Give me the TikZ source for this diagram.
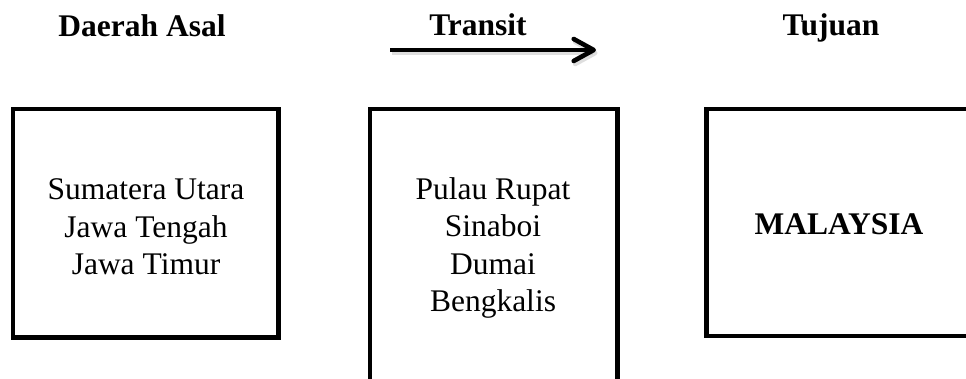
\documentclass[tikz,border=0pt]{standalone}
\usepackage{fontspec}
\setmainfont{Liberation Serif}
\usetikzlibrary{arrows.meta}
\begin{document}
\begin{tikzpicture}[x=1pt,y=-1pt,
  boxstyle/.style={draw=black,line width=4.6pt,rectangle,inner sep=0pt},
  title/.style={font=\fontsize{31.5}{38}\selectfont\bfseries,inner sep=0pt,anchor=base},
  body/.style={font=\fontsize{31.5}{37.5}\selectfont,align=center,inner sep=0pt},
  flow/.style={line width=4.6pt,-{Straight Barb[length=20pt,width=22pt,line cap=round,line join=round]}}
]
\useasboundingbox (0,0) rectangle (966,379);
\clip (0,0) rectangle (966,379);
\fill[white] (0,0) rectangle (966,379);
% titles
\node[title] (t1) at (142,37) {Daerah Asal};
\node[title] (t2) at (478,36) {Transit};
\node[title] (t3) at (831,36) {Tujuan};
% arrow
\coordinate (as) at (390,50);
\coordinate (ae) at (596,50);
\coordinate (ass) at (391.5,53);
\coordinate (aes) at (597.5,53);
\draw[flow,draw=black!25,opacity=0.5] (ass) -- (aes);
\draw[flow] (as) -- (ae);
% boxes
\node[boxstyle,minimum width=265.5pt,minimum height=228.5pt] (b1) at (145.75,223.25) {};
\node[boxstyle,minimum width=247.7pt,minimum height=341pt] (b2) at (493.85,279.5) {};
\node[boxstyle,minimum width=268pt,minimum height=227pt] (b3) at (840.7,222.5) {};
% texts
\node[body] (x1) at (146,227) {Sumatera Utara\\Jawa Tengah\\Jawa Timur};
\node[body] (x2) at (493,248) {Pulau Rupat\\Sinaboi\\Dumai\\Bengkalis};
\node[body,font=\fontsize{31.5}{37.5}\selectfont\bfseries] (x3) at (839,224) {MALAYSIA};
\end{tikzpicture}
\end{document}
